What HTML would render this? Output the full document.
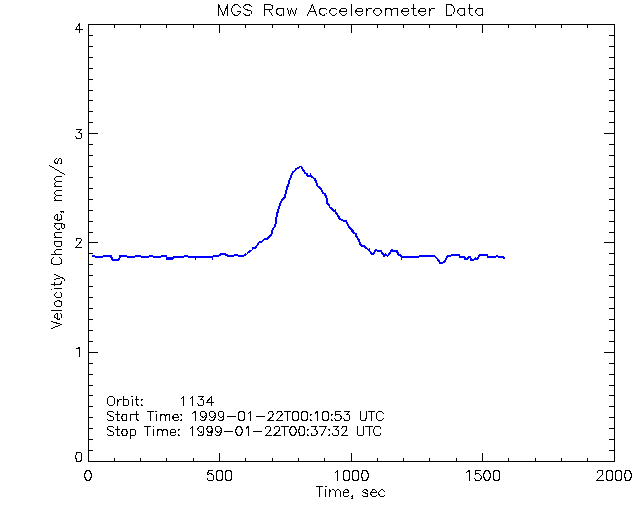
<!DOCTYPE html>
<html><head><meta charset="utf-8"><style>
html,body{margin:0;padding:0;background:#fff;width:640px;height:512px;overflow:hidden}
svg{display:block}
</style></head><body>
<svg width="640" height="512" viewBox="0 0 640 512">
<rect width="640" height="512" fill="#fff"/>
<path d="M88.5 24.5H614.5V461.5H88.5Z M88.5 461.5V453.5 M88.5 24.5V32.5 M114.5 461.5V458.5 M114.5 24.5V27.5 M140.5 461.5V458.5 M140.5 24.5V27.5 M166.5 461.5V458.5 M166.5 24.5V27.5 M193.5 461.5V458.5 M193.5 24.5V27.5 M219.5 461.5V453.5 M219.5 24.5V32.5 M245.5 461.5V458.5 M245.5 24.5V27.5 M272.5 461.5V458.5 M272.5 24.5V27.5 M298.5 461.5V458.5 M298.5 24.5V27.5 M324.5 461.5V458.5 M324.5 24.5V27.5 M351.5 461.5V453.5 M351.5 24.5V32.5 M377.5 461.5V458.5 M377.5 24.5V27.5 M403.5 461.5V458.5 M403.5 24.5V27.5 M429.5 461.5V458.5 M429.5 24.5V27.5 M456.5 461.5V458.5 M456.5 24.5V27.5 M482.5 461.5V453.5 M482.5 24.5V32.5 M508.5 461.5V458.5 M508.5 24.5V27.5 M535.5 461.5V458.5 M535.5 24.5V27.5 M561.5 461.5V458.5 M561.5 24.5V27.5 M587.5 461.5V458.5 M587.5 24.5V27.5 M614.5 461.5V453.5 M614.5 24.5V32.5 M88.5 461.5H97.5 M614.5 461.5H604.5 M88.5 450.5H92.5 M614.5 450.5H609.5 M88.5 439.5H92.5 M614.5 439.5H609.5 M88.5 428.5H92.5 M614.5 428.5H609.5 M88.5 417.5H92.5 M614.5 417.5H609.5 M88.5 406.5H92.5 M614.5 406.5H609.5 M88.5 395.5H92.5 M614.5 395.5H609.5 M88.5 385.5H92.5 M614.5 385.5H609.5 M88.5 374.5H92.5 M614.5 374.5H609.5 M88.5 363.5H92.5 M614.5 363.5H609.5 M88.5 352.5H97.5 M614.5 352.5H604.5 M88.5 341.5H92.5 M614.5 341.5H609.5 M88.5 330.5H92.5 M614.5 330.5H609.5 M88.5 319.5H92.5 M614.5 319.5H609.5 M88.5 308.5H92.5 M614.5 308.5H609.5 M88.5 297.5H92.5 M614.5 297.5H609.5 M88.5 286.5H92.5 M614.5 286.5H609.5 M88.5 275.5H92.5 M614.5 275.5H609.5 M88.5 264.5H92.5 M614.5 264.5H609.5 M88.5 253.5H92.5 M614.5 253.5H609.5 M88.5 242.5H97.5 M614.5 242.5H604.5 M88.5 232.5H92.5 M614.5 232.5H609.5 M88.5 221.5H92.5 M614.5 221.5H609.5 M88.5 210.5H92.5 M614.5 210.5H609.5 M88.5 199.5H92.5 M614.5 199.5H609.5 M88.5 188.5H92.5 M614.5 188.5H609.5 M88.5 177.5H92.5 M614.5 177.5H609.5 M88.5 166.5H92.5 M614.5 166.5H609.5 M88.5 155.5H92.5 M614.5 155.5H609.5 M88.5 144.5H92.5 M614.5 144.5H609.5 M88.5 133.5H97.5 M614.5 133.5H604.5 M88.5 122.5H92.5 M614.5 122.5H609.5 M88.5 111.5H92.5 M614.5 111.5H609.5 M88.5 100.5H92.5 M614.5 100.5H609.5 M88.5 90.5H92.5 M614.5 90.5H609.5 M88.5 79.5H92.5 M614.5 79.5H609.5 M88.5 68.5H92.5 M614.5 68.5H609.5 M88.5 57.5H92.5 M614.5 57.5H609.5 M88.5 46.5H92.5 M614.5 46.5H609.5 M88.5 35.5H92.5 M614.5 35.5H609.5 M88.5 24.5H97.5 M614.5 24.5H604.5" stroke="#000" stroke-width="1" fill="none" shape-rendering="crispEdges" stroke-linecap="square"/>
<path d="M218.5 4.5 L218.5 15.5 M218.5 4.5 L223.5 15.5 M227.5 4.5 L223.5 15.5 M227.5 4.5 L227.5 15.5 M240.5 7.5 L239.5 6.5 L238.5 5.5 L237.5 4.5 L235.5 4.5 L233.5 5.5 L232.5 6.5 L232.5 7.5 L231.5 8.5 L231.5 11.5 L232.5 12.5 L232.5 13.5 L233.5 14.5 L235.5 15.5 L237.5 15.5 L238.5 14.5 L239.5 13.5 L240.5 12.5 L240.5 11.5 M237.5 11.5 L240.5 11.5 M251.5 6.5 L250.5 5.5 L248.5 4.5 L246.5 4.5 L244.5 5.5 L243.5 6.5 L243.5 7.5 L244.5 8.5 L244.5 8.5 L245.5 9.5 L249.5 10.5 L250.5 10.5 L251.5 11.5 L251.5 12.5 L251.5 13.5 L250.5 14.5 L248.5 15.5 L246.5 15.5 L244.5 14.5 L243.5 13.5 M264.5 4.5 L264.5 15.5 M264.5 4.5 L270.5 4.5 L271.5 5.5 L272.5 5.5 L272.5 6.5 L272.5 7.5 L272.5 8.5 L271.5 9.5 L270.5 9.5 L264.5 9.5 M268.5 9.5 L272.5 15.5 M283.5 8.5 L283.5 15.5 M283.5 9.5 L282.5 8.5 L280.5 8.5 L279.5 8.5 L278.5 8.5 L276.5 9.5 L276.5 11.5 L276.5 12.5 L276.5 13.5 L278.5 14.5 L279.5 15.5 L280.5 15.5 L282.5 14.5 L283.5 13.5 M287.5 8.5 L289.5 15.5 M291.5 8.5 L289.5 15.5 M291.5 8.5 L294.5 15.5 M296.5 8.5 L294.5 15.5 M312.5 4.5 L307.5 15.5 M312.5 4.5 L316.5 15.5 M309.5 11.5 L315.5 11.5 M326.5 9.5 L325.5 8.5 L323.5 8.5 L322.5 8.5 L321.5 8.5 L319.5 9.5 L319.5 11.5 L319.5 12.5 L319.5 13.5 L321.5 14.5 L322.5 15.5 L323.5 15.5 L325.5 14.5 L326.5 13.5 M336.5 9.5 L335.5 8.5 L334.5 8.5 L332.5 8.5 L331.5 8.5 L330.5 9.5 L329.5 11.5 L329.5 12.5 L330.5 13.5 L331.5 14.5 L332.5 15.5 L334.5 15.5 L335.5 14.5 L336.5 13.5 M339.5 11.5 L346.5 11.5 L346.5 10.5 L346.5 9.5 L345.5 8.5 L344.5 8.5 L342.5 8.5 L341.5 8.5 L340.5 9.5 L339.5 11.5 L339.5 12.5 L340.5 13.5 L341.5 14.5 L342.5 15.5 L344.5 15.5 L345.5 14.5 L346.5 13.5 M351.5 4.5 L351.5 15.5 M355.5 11.5 L362.5 11.5 L362.5 10.5 L362.5 9.5 L361.5 8.5 L360.5 8.5 L358.5 8.5 L357.5 8.5 L356.5 9.5 L355.5 11.5 L355.5 12.5 L356.5 13.5 L357.5 14.5 L358.5 15.5 L360.5 15.5 L361.5 14.5 L362.5 13.5 M366.5 8.5 L366.5 15.5 M366.5 11.5 L367.5 9.5 L368.5 8.5 L369.5 8.5 L371.5 8.5 M376.5 8.5 L375.5 8.5 L374.5 9.5 L373.5 11.5 L373.5 12.5 L374.5 13.5 L375.5 14.5 L376.5 15.5 L378.5 15.5 L379.5 14.5 L380.5 13.5 L381.5 12.5 L381.5 11.5 L380.5 9.5 L379.5 8.5 L378.5 8.5 L376.5 8.5 M385.5 8.5 L385.5 15.5 M385.5 10.5 L386.5 8.5 L388.5 8.5 L389.5 8.5 L390.5 8.5 L391.5 10.5 L391.5 15.5 M391.5 10.5 L393.5 8.5 L394.5 8.5 L396.5 8.5 L397.5 8.5 L397.5 10.5 L397.5 15.5 M401.5 11.5 L408.5 11.5 L408.5 10.5 L408.5 9.5 L407.5 8.5 L406.5 8.5 L404.5 8.5 L403.5 8.5 L402.5 9.5 L401.5 11.5 L401.5 12.5 L402.5 13.5 L403.5 14.5 L404.5 15.5 L406.5 15.5 L407.5 14.5 L408.5 13.5 M413.5 4.5 L413.5 13.5 L413.5 14.5 L414.5 15.5 L416.5 15.5 M411.5 8.5 L415.5 8.5 M418.5 11.5 L425.5 11.5 L425.5 10.5 L425.5 9.5 L424.5 8.5 L423.5 8.5 L421.5 8.5 L420.5 8.5 L419.5 9.5 L418.5 11.5 L418.5 12.5 L419.5 13.5 L420.5 14.5 L421.5 15.5 L423.5 15.5 L424.5 14.5 L425.5 13.5 M429.5 8.5 L429.5 15.5 M429.5 11.5 L430.5 9.5 L431.5 8.5 L432.5 8.5 L434.5 8.5 M446.5 4.5 L446.5 15.5 M446.5 4.5 L450.5 4.5 L452.5 5.5 L453.5 6.5 L453.5 7.5 L454.5 8.5 L454.5 11.5 L453.5 12.5 L453.5 13.5 L452.5 14.5 L450.5 15.5 L446.5 15.5 M464.5 8.5 L464.5 15.5 M464.5 9.5 L463.5 8.5 L462.5 8.5 L460.5 8.5 L459.5 8.5 L458.5 9.5 L457.5 11.5 L457.5 12.5 L458.5 13.5 L459.5 14.5 L460.5 15.5 L462.5 15.5 L463.5 14.5 L464.5 13.5 M469.5 4.5 L469.5 13.5 L470.5 14.5 L471.5 15.5 L472.5 15.5 M468.5 8.5 L472.5 8.5 M482.5 8.5 L482.5 15.5 M482.5 9.5 L481.5 8.5 L480.5 8.5 L478.5 8.5 L477.5 8.5 L476.5 9.5 L475.5 11.5 L475.5 12.5 L476.5 13.5 L477.5 14.5 L478.5 15.5 L480.5 15.5 L481.5 14.5 L482.5 13.5 M78.5 452.5 L76.5 452.5 L76.5 453.5 L75.5 456.5 L75.5 457.5 L76.5 459.5 L76.5 461.5 L78.5 461.5 L79.5 461.5 L80.5 461.5 L81.5 459.5 L81.5 457.5 L81.5 456.5 L81.5 453.5 L80.5 452.5 L79.5 452.5 L78.5 452.5 M76.5 348.5 L77.5 348.5 L79.5 347.5 L79.5 356.5 M76.5 240.5 L76.5 239.5 L76.5 238.5 L76.5 238.5 L77.5 238.5 L79.5 238.5 L80.5 238.5 L80.5 238.5 L81.5 239.5 L81.5 240.5 L80.5 241.5 L79.5 243.5 L75.5 247.5 L81.5 247.5 M76.5 129.5 L81.5 129.5 L78.5 132.5 L79.5 132.5 L80.5 133.5 L81.5 133.5 L81.5 134.5 L81.5 135.5 L81.5 137.5 L80.5 138.5 L79.5 138.5 L77.5 138.5 L76.5 138.5 L76.5 137.5 L75.5 136.5 M79.5 23.5 L75.5 29.5 L82.5 29.5 M79.5 23.5 L79.5 32.5 M87.5 470.5 L86.5 470.5 L85.5 472.5 L84.5 474.5 L84.5 476.5 L85.5 478.5 L86.5 480.5 L87.5 480.5 L88.5 480.5 L89.5 480.5 L90.5 478.5 L91.5 476.5 L91.5 474.5 L90.5 472.5 L89.5 470.5 L88.5 470.5 L87.5 470.5 M212.5 470.5 L208.5 470.5 L207.5 474.5 L208.5 474.5 L209.5 473.5 L210.5 473.5 L212.5 474.5 L213.5 475.5 L213.5 476.5 L213.5 477.5 L213.5 479.5 L212.5 480.5 L210.5 480.5 L209.5 480.5 L208.5 480.5 L207.5 479.5 L207.5 478.5 M219.5 470.5 L217.5 470.5 L216.5 472.5 L216.5 474.5 L216.5 476.5 L216.5 478.5 L217.5 480.5 L219.5 480.5 L219.5 480.5 L221.5 480.5 L222.5 478.5 L222.5 476.5 L222.5 474.5 L222.5 472.5 L221.5 470.5 L219.5 470.5 L219.5 470.5 M228.5 470.5 L226.5 470.5 L225.5 472.5 L225.5 474.5 L225.5 476.5 L225.5 478.5 L226.5 480.5 L228.5 480.5 L229.5 480.5 L230.5 480.5 L231.5 478.5 L231.5 476.5 L231.5 474.5 L231.5 472.5 L230.5 470.5 L229.5 470.5 L228.5 470.5 M335.5 472.5 L336.5 471.5 L337.5 470.5 L337.5 480.5 M345.5 470.5 L344.5 470.5 L343.5 472.5 L343.5 474.5 L343.5 476.5 L343.5 478.5 L344.5 480.5 L345.5 480.5 L346.5 480.5 L348.5 480.5 L349.5 478.5 L349.5 476.5 L349.5 474.5 L349.5 472.5 L348.5 470.5 L346.5 470.5 L345.5 470.5 M355.5 470.5 L353.5 470.5 L352.5 472.5 L352.5 474.5 L352.5 476.5 L352.5 478.5 L353.5 480.5 L355.5 480.5 L356.5 480.5 L357.5 480.5 L358.5 478.5 L358.5 476.5 L358.5 474.5 L358.5 472.5 L357.5 470.5 L356.5 470.5 L355.5 470.5 M364.5 470.5 L362.5 470.5 L362.5 472.5 L361.5 474.5 L361.5 476.5 L362.5 478.5 L362.5 480.5 L364.5 480.5 L365.5 480.5 L366.5 480.5 L367.5 478.5 L368.5 476.5 L368.5 474.5 L367.5 472.5 L366.5 470.5 L365.5 470.5 L364.5 470.5 M466.5 472.5 L467.5 471.5 L469.5 470.5 L469.5 480.5 M480.5 470.5 L475.5 470.5 L475.5 474.5 L475.5 474.5 L476.5 473.5 L478.5 473.5 L479.5 474.5 L480.5 475.5 L481.5 476.5 L481.5 477.5 L480.5 479.5 L479.5 480.5 L478.5 480.5 L476.5 480.5 L475.5 480.5 L475.5 479.5 L474.5 478.5 M486.5 470.5 L485.5 470.5 L484.5 472.5 L483.5 474.5 L483.5 476.5 L484.5 478.5 L485.5 480.5 L486.5 480.5 L487.5 480.5 L488.5 480.5 L489.5 478.5 L490.5 476.5 L490.5 474.5 L489.5 472.5 L488.5 470.5 L487.5 470.5 L486.5 470.5 M495.5 470.5 L494.5 470.5 L493.5 472.5 L493.5 474.5 L493.5 476.5 L493.5 478.5 L494.5 480.5 L495.5 480.5 L496.5 480.5 L498.5 480.5 L499.5 478.5 L499.5 476.5 L499.5 474.5 L499.5 472.5 L498.5 470.5 L496.5 470.5 L495.5 470.5 M597.5 472.5 L597.5 472.5 L597.5 471.5 L598.5 470.5 L599.5 470.5 L601.5 470.5 L602.5 470.5 L602.5 471.5 L602.5 472.5 L602.5 473.5 L602.5 474.5 L601.5 475.5 L596.5 480.5 L603.5 480.5 M608.5 470.5 L607.5 470.5 L606.5 472.5 L606.5 474.5 L606.5 476.5 L606.5 478.5 L607.5 480.5 L608.5 480.5 L609.5 480.5 L611.5 480.5 L612.5 478.5 L612.5 476.5 L612.5 474.5 L612.5 472.5 L611.5 470.5 L609.5 470.5 L608.5 470.5 M618.5 470.5 L616.5 470.5 L615.5 472.5 L615.5 474.5 L615.5 476.5 L615.5 478.5 L616.5 480.5 L618.5 480.5 L619.5 480.5 L620.5 480.5 L621.5 478.5 L621.5 476.5 L621.5 474.5 L621.5 472.5 L620.5 470.5 L619.5 470.5 L618.5 470.5 M627.5 470.5 L625.5 470.5 L625.5 472.5 L624.5 474.5 L624.5 476.5 L625.5 478.5 L625.5 480.5 L627.5 480.5 L628.5 480.5 L629.5 480.5 L630.5 478.5 L631.5 476.5 L631.5 474.5 L630.5 472.5 L629.5 470.5 L628.5 470.5 L627.5 470.5 M319.5 486.5 L319.5 496.5 M316.5 486.5 L322.5 486.5 M325.5 486.5 L325.5 486.5 L326.5 486.5 L325.5 486.5 L325.5 486.5 M325.5 489.5 L325.5 496.5 M329.5 489.5 L329.5 496.5 M329.5 491.5 L331.5 490.5 L332.5 489.5 L333.5 489.5 L334.5 490.5 L335.5 491.5 L335.5 496.5 M335.5 491.5 L336.5 490.5 L337.5 489.5 L338.5 489.5 L339.5 490.5 L340.5 491.5 L340.5 496.5 M343.5 492.5 L348.5 492.5 L348.5 491.5 L348.5 490.5 L347.5 490.5 L347.5 489.5 L345.5 489.5 L344.5 490.5 L343.5 491.5 L343.5 492.5 L343.5 493.5 L343.5 495.5 L344.5 496.5 L345.5 496.5 L347.5 496.5 L347.5 496.5 L348.5 495.5 M352.5 496.5 L352.5 496.5 L351.5 496.5 L352.5 495.5 L352.5 496.5 L352.5 497.5 L352.5 498.5 L351.5 498.5 M367.5 491.5 L367.5 490.5 L365.5 489.5 L364.5 489.5 L363.5 490.5 L362.5 491.5 L363.5 492.5 L364.5 492.5 L366.5 493.5 L367.5 493.5 L367.5 494.5 L367.5 495.5 L367.5 496.5 L365.5 496.5 L364.5 496.5 L363.5 496.5 L362.5 495.5 M370.5 492.5 L376.5 492.5 L376.5 491.5 L375.5 490.5 L375.5 490.5 L374.5 489.5 L372.5 489.5 L372.5 490.5 L371.5 491.5 L370.5 492.5 L370.5 493.5 L371.5 495.5 L372.5 496.5 L372.5 496.5 L374.5 496.5 L375.5 496.5 L376.5 495.5 M384.5 491.5 L383.5 490.5 L382.5 489.5 L381.5 489.5 L380.5 490.5 L379.5 491.5 L378.5 492.5 L378.5 493.5 L379.5 495.5 L380.5 496.5 L381.5 496.5 L382.5 496.5 L383.5 496.5 L384.5 495.5 M51.5 328.5 L61.5 324.5 M51.5 321.5 L61.5 324.5 M57.5 319.5 L57.5 313.5 L56.5 313.5 L55.5 314.5 L55.5 314.5 L54.5 315.5 L54.5 317.5 L55.5 317.5 L56.5 318.5 L57.5 319.5 L58.5 319.5 L60.5 318.5 L61.5 317.5 L61.5 317.5 L61.5 315.5 L61.5 314.5 L60.5 313.5 M51.5 310.5 L61.5 310.5 M54.5 304.5 L55.5 305.5 L56.5 306.5 L57.5 306.5 L58.5 306.5 L60.5 306.5 L61.5 305.5 L61.5 304.5 L61.5 302.5 L61.5 301.5 L60.5 301.5 L58.5 300.5 L57.5 300.5 L56.5 301.5 L55.5 301.5 L54.5 302.5 L54.5 304.5 M56.5 292.5 L55.5 293.5 L54.5 294.5 L54.5 295.5 L55.5 296.5 L56.5 297.5 L57.5 297.5 L58.5 297.5 L60.5 297.5 L61.5 296.5 L61.5 295.5 L61.5 294.5 L61.5 293.5 L60.5 292.5 M51.5 289.5 L51.5 288.5 L51.5 288.5 L51.5 288.5 L51.5 289.5 M54.5 288.5 L61.5 288.5 M51.5 284.5 L59.5 284.5 L61.5 283.5 L61.5 282.5 L61.5 281.5 M54.5 285.5 L54.5 282.5 M54.5 279.5 L61.5 277.5 M54.5 274.5 L61.5 277.5 L63.5 278.5 L64.5 279.5 L64.5 279.5 L64.5 280.5 M53.5 257.5 L52.5 258.5 L51.5 259.5 L51.5 260.5 L51.5 262.5 L51.5 263.5 L52.5 263.5 L53.5 264.5 L55.5 264.5 L57.5 264.5 L59.5 264.5 L60.5 263.5 L61.5 263.5 L61.5 262.5 L61.5 260.5 L61.5 259.5 L60.5 258.5 L59.5 257.5 M51.5 254.5 L61.5 254.5 M56.5 254.5 L55.5 253.5 L54.5 252.5 L54.5 251.5 L55.5 250.5 L56.5 249.5 L61.5 249.5 M54.5 241.5 L61.5 241.5 M56.5 241.5 L55.5 241.5 L54.5 242.5 L54.5 244.5 L55.5 245.5 L56.5 246.5 L57.5 246.5 L58.5 246.5 L60.5 246.5 L61.5 245.5 L61.5 244.5 L61.5 242.5 L61.5 241.5 L60.5 241.5 M54.5 237.5 L61.5 237.5 M56.5 237.5 L55.5 236.5 L54.5 235.5 L54.5 233.5 L55.5 232.5 L56.5 232.5 L61.5 232.5 M54.5 223.5 L62.5 223.5 L63.5 224.5 L64.5 224.5 L64.5 225.5 L64.5 226.5 L64.5 227.5 L63.5 228.5 L62.5 228.5 M56.5 223.5 L55.5 224.5 L54.5 225.5 L54.5 226.5 L55.5 227.5 L56.5 228.5 L57.5 229.5 L58.5 229.5 L60.5 228.5 L61.5 227.5 L61.5 226.5 L61.5 225.5 L61.5 224.5 L60.5 223.5 M57.5 220.5 L57.5 214.5 L56.5 214.5 L55.5 215.5 L55.5 215.5 L54.5 216.5 L54.5 218.5 L55.5 219.5 L56.5 219.5 L57.5 220.5 L58.5 220.5 L60.5 219.5 L61.5 219.5 L61.5 218.5 L61.5 216.5 L61.5 215.5 L60.5 214.5 M61.5 211.5 L61.5 211.5 L61.5 212.5 L60.5 211.5 L61.5 211.5 L62.5 211.5 L63.5 211.5 L63.5 212.5 M54.5 200.5 L61.5 200.5 M56.5 200.5 L55.5 199.5 L54.5 198.5 L54.5 197.5 L55.5 196.5 L56.5 195.5 L61.5 195.5 M56.5 195.5 L55.5 194.5 L54.5 193.5 L54.5 192.5 L55.5 191.5 L56.5 190.5 L61.5 190.5 M54.5 186.5 L61.5 186.5 M56.5 186.5 L55.5 185.5 L54.5 184.5 L54.5 183.5 L55.5 182.5 L56.5 181.5 L61.5 181.5 M56.5 181.5 L55.5 180.5 L54.5 179.5 L54.5 178.5 L55.5 177.5 L56.5 176.5 L61.5 176.5 M49.5 165.5 L64.5 174.5 M56.5 158.5 L55.5 159.5 L54.5 160.5 L54.5 161.5 L55.5 163.5 L56.5 163.5 L57.5 163.5 L57.5 162.5 L58.5 159.5 L58.5 159.5 L59.5 158.5 L60.5 158.5 L61.5 159.5 L61.5 160.5 L61.5 161.5 L61.5 163.5 L60.5 163.5 M110.5 396.5 L109.5 396.5 L108.5 397.5 L107.5 398.5 L107.5 399.5 L107.5 402.5 L107.5 403.5 L108.5 404.5 L109.5 405.5 L110.5 405.5 L111.5 405.5 L112.5 405.5 L113.5 404.5 L114.5 403.5 L114.5 402.5 L114.5 399.5 L114.5 398.5 L113.5 397.5 L112.5 396.5 L111.5 396.5 L110.5 396.5 M117.5 399.5 L117.5 405.5 M117.5 402.5 L118.5 400.5 L119.5 399.5 L119.5 399.5 L121.5 399.5 M123.5 396.5 L123.5 405.5 M123.5 400.5 L124.5 399.5 L125.5 399.5 L126.5 399.5 L127.5 399.5 L128.5 400.5 L128.5 402.5 L128.5 402.5 L128.5 404.5 L127.5 405.5 L126.5 405.5 L125.5 405.5 L124.5 405.5 L123.5 404.5 M131.5 396.5 L132.5 396.5 L132.5 396.5 L132.5 396.5 L131.5 396.5 M132.5 399.5 L132.5 405.5 M136.5 396.5 L136.5 403.5 L137.5 405.5 L138.5 405.5 L138.5 405.5 M135.5 399.5 L138.5 399.5 M141.5 399.5 L141.5 399.5 L141.5 400.5 L142.5 399.5 L141.5 399.5 M141.5 404.5 L141.5 405.5 L141.5 405.5 L142.5 405.5 L141.5 404.5 M181.5 398.5 L182.5 397.5 L183.5 396.5 L183.5 405.5 M190.5 398.5 L191.5 397.5 L192.5 396.5 L192.5 405.5 M198.5 396.5 L203.5 396.5 L200.5 399.5 L202.5 399.5 L203.5 400.5 L203.5 400.5 L203.5 402.5 L203.5 402.5 L203.5 404.5 L202.5 405.5 L201.5 405.5 L199.5 405.5 L198.5 405.5 L198.5 404.5 L197.5 403.5 M211.5 396.5 L206.5 402.5 L213.5 402.5 M211.5 396.5 L211.5 405.5 M113.5 412.5 L112.5 411.5 L111.5 411.5 L109.5 411.5 L108.5 411.5 L107.5 412.5 L107.5 413.5 L107.5 414.5 L108.5 414.5 L109.5 415.5 L111.5 416.5 L112.5 416.5 L113.5 417.5 L113.5 417.5 L113.5 419.5 L112.5 420.5 L111.5 420.5 L109.5 420.5 L108.5 420.5 L107.5 419.5 M117.5 411.5 L117.5 418.5 L117.5 420.5 L118.5 420.5 L119.5 420.5 M115.5 414.5 L119.5 414.5 M126.5 414.5 L126.5 420.5 M126.5 415.5 L126.5 414.5 L125.5 414.5 L123.5 414.5 L122.5 414.5 L122.5 415.5 L121.5 417.5 L121.5 417.5 L122.5 419.5 L122.5 420.5 L123.5 420.5 L125.5 420.5 L126.5 420.5 L126.5 419.5 M130.5 414.5 L130.5 420.5 M130.5 417.5 L130.5 415.5 L131.5 414.5 L132.5 414.5 L134.5 414.5 M136.5 411.5 L136.5 418.5 L137.5 420.5 L138.5 420.5 L138.5 420.5 M135.5 414.5 L138.5 414.5 M150.5 411.5 L150.5 420.5 M147.5 411.5 L153.5 411.5 M155.5 411.5 L156.5 411.5 L156.5 411.5 L156.5 411.5 L155.5 411.5 M156.5 414.5 L156.5 420.5 M160.5 414.5 L160.5 420.5 M160.5 416.5 L161.5 414.5 L162.5 414.5 L163.5 414.5 L164.5 414.5 L165.5 416.5 L165.5 420.5 M165.5 416.5 L166.5 414.5 L167.5 414.5 L168.5 414.5 L169.5 414.5 L169.5 416.5 L169.5 420.5 M172.5 417.5 L178.5 417.5 L178.5 416.5 L177.5 415.5 L177.5 414.5 L176.5 414.5 L175.5 414.5 L174.5 414.5 L173.5 415.5 L172.5 417.5 L172.5 417.5 L173.5 419.5 L174.5 420.5 L175.5 420.5 L176.5 420.5 L177.5 420.5 L178.5 419.5 M181.5 414.5 L180.5 414.5 L181.5 415.5 L181.5 414.5 L181.5 414.5 M181.5 419.5 L180.5 420.5 L181.5 420.5 L181.5 420.5 L181.5 419.5 M192.5 413.5 L193.5 412.5 L195.5 411.5 L195.5 420.5 M206.5 414.5 L205.5 415.5 L204.5 416.5 L203.5 417.5 L203.5 417.5 L201.5 416.5 L200.5 415.5 L200.5 414.5 L200.5 414.5 L200.5 412.5 L201.5 411.5 L203.5 411.5 L203.5 411.5 L204.5 411.5 L205.5 412.5 L206.5 414.5 L206.5 416.5 L205.5 418.5 L204.5 420.5 L203.5 420.5 L202.5 420.5 L201.5 420.5 L200.5 419.5 M215.5 414.5 L214.5 415.5 L213.5 416.5 L212.5 417.5 L211.5 417.5 L210.5 416.5 L209.5 415.5 L209.5 414.5 L209.5 414.5 L209.5 412.5 L210.5 411.5 L211.5 411.5 L212.5 411.5 L213.5 411.5 L214.5 412.5 L215.5 414.5 L215.5 416.5 L214.5 418.5 L213.5 420.5 L212.5 420.5 L211.5 420.5 L210.5 420.5 L209.5 419.5 M223.5 414.5 L223.5 415.5 L222.5 416.5 L221.5 417.5 L220.5 417.5 L219.5 416.5 L218.5 415.5 L218.5 414.5 L218.5 414.5 L218.5 412.5 L219.5 411.5 L220.5 411.5 L221.5 411.5 L222.5 411.5 L223.5 412.5 L223.5 414.5 L223.5 416.5 L223.5 418.5 L222.5 420.5 L221.5 420.5 L220.5 420.5 L219.5 420.5 L218.5 419.5 M227.5 416.5 L235.5 416.5 M241.5 411.5 L239.5 411.5 L238.5 413.5 L238.5 415.5 L238.5 416.5 L238.5 418.5 L239.5 420.5 L241.5 420.5 L242.5 420.5 L243.5 420.5 L244.5 418.5 L244.5 416.5 L244.5 415.5 L244.5 413.5 L243.5 411.5 L242.5 411.5 L241.5 411.5 M248.5 413.5 L249.5 412.5 L250.5 411.5 L250.5 420.5 M256.5 416.5 L264.5 416.5 M268.5 413.5 L268.5 413.5 L268.5 412.5 L269.5 411.5 L269.5 411.5 L271.5 411.5 L272.5 411.5 L272.5 412.5 L273.5 413.5 L273.5 414.5 L272.5 414.5 L272.5 416.5 L267.5 420.5 L273.5 420.5 M276.5 413.5 L276.5 413.5 L277.5 412.5 L277.5 411.5 L278.5 411.5 L280.5 411.5 L281.5 411.5 L281.5 412.5 L282.5 413.5 L282.5 414.5 L281.5 414.5 L280.5 416.5 L276.5 420.5 L282.5 420.5 M287.5 411.5 L287.5 420.5 M284.5 411.5 L290.5 411.5 M295.5 411.5 L293.5 411.5 L292.5 413.5 L292.5 415.5 L292.5 416.5 L292.5 418.5 L293.5 420.5 L295.5 420.5 L296.5 420.5 L297.5 420.5 L298.5 418.5 L298.5 416.5 L298.5 415.5 L298.5 413.5 L297.5 411.5 L296.5 411.5 L295.5 411.5 M303.5 411.5 L302.5 411.5 L301.5 413.5 L301.5 415.5 L301.5 416.5 L301.5 418.5 L302.5 420.5 L303.5 420.5 L304.5 420.5 L306.5 420.5 L307.5 418.5 L307.5 416.5 L307.5 415.5 L307.5 413.5 L306.5 411.5 L304.5 411.5 L303.5 411.5 M310.5 414.5 L310.5 414.5 L310.5 415.5 L311.5 414.5 L310.5 414.5 M310.5 419.5 L310.5 420.5 L310.5 420.5 L311.5 420.5 L310.5 419.5 M315.5 413.5 L315.5 412.5 L317.5 411.5 L317.5 420.5 M325.5 411.5 L323.5 411.5 L322.5 413.5 L322.5 415.5 L322.5 416.5 L322.5 418.5 L323.5 420.5 L325.5 420.5 L326.5 420.5 L327.5 420.5 L328.5 418.5 L328.5 416.5 L328.5 415.5 L328.5 413.5 L327.5 411.5 L326.5 411.5 L325.5 411.5 M331.5 414.5 L331.5 414.5 L331.5 415.5 L332.5 414.5 L331.5 414.5 M331.5 419.5 L331.5 420.5 L331.5 420.5 L332.5 420.5 L331.5 419.5 M340.5 411.5 L335.5 411.5 L335.5 415.5 L335.5 414.5 L337.5 414.5 L338.5 414.5 L339.5 414.5 L340.5 415.5 L341.5 417.5 L341.5 417.5 L340.5 419.5 L339.5 420.5 L338.5 420.5 L337.5 420.5 L335.5 420.5 L335.5 419.5 L334.5 418.5 M344.5 411.5 L349.5 411.5 L346.5 414.5 L348.5 414.5 L349.5 415.5 L349.5 415.5 L349.5 417.5 L349.5 417.5 L349.5 419.5 L348.5 420.5 L347.5 420.5 L346.5 420.5 L344.5 420.5 L344.5 419.5 L343.5 418.5 M360.5 411.5 L360.5 417.5 L360.5 419.5 L361.5 420.5 L362.5 420.5 L363.5 420.5 L365.5 420.5 L365.5 419.5 L366.5 417.5 L366.5 411.5 M371.5 411.5 L371.5 420.5 M368.5 411.5 L374.5 411.5 M383.5 413.5 L382.5 412.5 L381.5 411.5 L380.5 411.5 L379.5 411.5 L378.5 411.5 L377.5 412.5 L376.5 413.5 L376.5 414.5 L376.5 417.5 L376.5 418.5 L377.5 419.5 L378.5 420.5 L379.5 420.5 L380.5 420.5 L381.5 420.5 L382.5 419.5 L383.5 418.5 M113.5 427.5 L112.5 426.5 L111.5 426.5 L109.5 426.5 L108.5 426.5 L107.5 427.5 L107.5 428.5 L107.5 429.5 L108.5 429.5 L109.5 430.5 L111.5 431.5 L112.5 431.5 L113.5 432.5 L113.5 432.5 L113.5 434.5 L112.5 435.5 L111.5 435.5 L109.5 435.5 L108.5 435.5 L107.5 434.5 M117.5 426.5 L117.5 433.5 L117.5 435.5 L118.5 435.5 L119.5 435.5 M115.5 429.5 L119.5 429.5 M123.5 429.5 L122.5 429.5 L122.5 430.5 L121.5 432.5 L121.5 432.5 L122.5 434.5 L122.5 435.5 L123.5 435.5 L125.5 435.5 L126.5 435.5 L126.5 434.5 L127.5 432.5 L127.5 432.5 L126.5 430.5 L126.5 429.5 L125.5 429.5 L123.5 429.5 M130.5 429.5 L130.5 438.5 M130.5 430.5 L131.5 429.5 L132.5 429.5 L133.5 429.5 L134.5 429.5 L135.5 430.5 L135.5 432.5 L135.5 432.5 L135.5 434.5 L134.5 435.5 L133.5 435.5 L132.5 435.5 L131.5 435.5 L130.5 434.5 M147.5 426.5 L147.5 435.5 M144.5 426.5 L150.5 426.5 M153.5 426.5 L153.5 426.5 L153.5 426.5 L153.5 426.5 L153.5 426.5 M153.5 429.5 L153.5 435.5 M157.5 429.5 L157.5 435.5 M157.5 431.5 L158.5 429.5 L159.5 429.5 L161.5 429.5 L161.5 429.5 L162.5 431.5 L162.5 435.5 M162.5 431.5 L163.5 429.5 L164.5 429.5 L165.5 429.5 L166.5 429.5 L167.5 431.5 L167.5 435.5 M170.5 432.5 L175.5 432.5 L175.5 431.5 L175.5 430.5 L174.5 429.5 L173.5 429.5 L172.5 429.5 L171.5 429.5 L170.5 430.5 L170.5 432.5 L170.5 432.5 L170.5 434.5 L171.5 435.5 L172.5 435.5 L173.5 435.5 L174.5 435.5 L175.5 434.5 M178.5 429.5 L178.5 429.5 L178.5 430.5 L179.5 429.5 L178.5 429.5 M178.5 434.5 L178.5 435.5 L178.5 435.5 L179.5 435.5 L178.5 434.5 M190.5 428.5 L191.5 427.5 L192.5 426.5 L192.5 435.5 M203.5 429.5 L203.5 430.5 L202.5 431.5 L200.5 432.5 L200.5 432.5 L199.5 431.5 L198.5 430.5 L197.5 429.5 L197.5 429.5 L198.5 427.5 L199.5 426.5 L200.5 426.5 L200.5 426.5 L202.5 426.5 L203.5 427.5 L203.5 429.5 L203.5 431.5 L203.5 433.5 L202.5 435.5 L200.5 435.5 L199.5 435.5 L198.5 435.5 L198.5 434.5 M212.5 429.5 L211.5 430.5 L211.5 431.5 L209.5 432.5 L209.5 432.5 L207.5 431.5 L207.5 430.5 L206.5 429.5 L206.5 429.5 L207.5 427.5 L207.5 426.5 L209.5 426.5 L209.5 426.5 L211.5 426.5 L211.5 427.5 L212.5 429.5 L212.5 431.5 L211.5 433.5 L211.5 435.5 L209.5 435.5 L208.5 435.5 L207.5 435.5 L207.5 434.5 M221.5 429.5 L220.5 430.5 L219.5 431.5 L218.5 432.5 L218.5 432.5 L216.5 431.5 L215.5 430.5 L215.5 429.5 L215.5 429.5 L215.5 427.5 L216.5 426.5 L218.5 426.5 L218.5 426.5 L219.5 426.5 L220.5 427.5 L221.5 429.5 L221.5 431.5 L220.5 433.5 L219.5 435.5 L218.5 435.5 L217.5 435.5 L216.5 435.5 L215.5 434.5 M224.5 431.5 L232.5 431.5 M238.5 426.5 L237.5 426.5 L236.5 428.5 L235.5 430.5 L235.5 431.5 L236.5 433.5 L237.5 435.5 L238.5 435.5 L239.5 435.5 L240.5 435.5 L241.5 433.5 L242.5 431.5 L242.5 430.5 L241.5 428.5 L240.5 426.5 L239.5 426.5 L238.5 426.5 M246.5 428.5 L246.5 427.5 L248.5 426.5 L248.5 435.5 M253.5 431.5 L261.5 431.5 M265.5 428.5 L265.5 428.5 L265.5 427.5 L266.5 426.5 L267.5 426.5 L269.5 426.5 L269.5 426.5 L270.5 427.5 L270.5 428.5 L270.5 429.5 L270.5 429.5 L269.5 431.5 L265.5 435.5 L271.5 435.5 M274.5 428.5 L274.5 428.5 L274.5 427.5 L275.5 426.5 L276.5 426.5 L277.5 426.5 L278.5 426.5 L279.5 427.5 L279.5 428.5 L279.5 429.5 L279.5 429.5 L278.5 431.5 L273.5 435.5 L280.5 435.5 M284.5 426.5 L284.5 435.5 M281.5 426.5 L288.5 426.5 M292.5 426.5 L291.5 426.5 L290.5 428.5 L289.5 430.5 L289.5 431.5 L290.5 433.5 L291.5 435.5 L292.5 435.5 L293.5 435.5 L294.5 435.5 L295.5 433.5 L296.5 431.5 L296.5 430.5 L295.5 428.5 L294.5 426.5 L293.5 426.5 L292.5 426.5 M301.5 426.5 L299.5 426.5 L299.5 428.5 L298.5 430.5 L298.5 431.5 L299.5 433.5 L299.5 435.5 L301.5 435.5 L302.5 435.5 L303.5 435.5 L304.5 433.5 L304.5 431.5 L304.5 430.5 L304.5 428.5 L303.5 426.5 L302.5 426.5 L301.5 426.5 M307.5 429.5 L307.5 429.5 L307.5 430.5 L308.5 429.5 L307.5 429.5 M307.5 434.5 L307.5 435.5 L307.5 435.5 L308.5 435.5 L307.5 434.5 M311.5 426.5 L316.5 426.5 L314.5 429.5 L315.5 429.5 L316.5 430.5 L316.5 430.5 L317.5 432.5 L317.5 432.5 L316.5 434.5 L315.5 435.5 L314.5 435.5 L313.5 435.5 L311.5 435.5 L311.5 434.5 L311.5 433.5 M326.5 426.5 L321.5 435.5 M319.5 426.5 L326.5 426.5 M329.5 429.5 L328.5 429.5 L329.5 430.5 L329.5 429.5 L329.5 429.5 M329.5 434.5 L328.5 435.5 L329.5 435.5 L329.5 435.5 L329.5 434.5 M333.5 426.5 L338.5 426.5 L335.5 429.5 L336.5 429.5 L337.5 430.5 L338.5 430.5 L338.5 432.5 L338.5 432.5 L338.5 434.5 L337.5 435.5 L335.5 435.5 L334.5 435.5 L333.5 435.5 L332.5 434.5 L332.5 433.5 M341.5 428.5 L341.5 428.5 L342.5 427.5 L342.5 426.5 L343.5 426.5 L345.5 426.5 L346.5 426.5 L346.5 427.5 L346.5 428.5 L346.5 429.5 L346.5 429.5 L345.5 431.5 L341.5 435.5 L347.5 435.5 M357.5 426.5 L357.5 432.5 L357.5 434.5 L358.5 435.5 L360.5 435.5 L361.5 435.5 L362.5 435.5 L363.5 434.5 L363.5 432.5 L363.5 426.5 M369.5 426.5 L369.5 435.5 M365.5 426.5 L372.5 426.5 M380.5 428.5 L380.5 427.5 L379.5 426.5 L378.5 426.5 L376.5 426.5 L375.5 426.5 L374.5 427.5 L374.5 428.5 L373.5 429.5 L373.5 432.5 L374.5 433.5 L374.5 434.5 L375.5 435.5 L376.5 435.5 L378.5 435.5 L379.5 435.5 L380.5 434.5 L380.5 433.5" stroke="#000" stroke-width="1" fill="none" shape-rendering="crispEdges" stroke-linecap="square"/>
<path d="M92.5 255.5 L94.5 255.5 L95.5 256.5 L102.5 256.5 L103.5 255.5 L110 255.5 L112 259.5 L118.5 259.5 L120 255.5 L126.5 255.5 L127.5 256.5 L134.5 256.5 L135.5 255.5 L140.5 255.5 L141.5 256.5 L148.5 256.5 L149.5 255.5 L152.5 255.5 L153.5 256.5 L160.5 256.5 L161.5 255.5 L165.5 255.5 L166.5 258 L172.5 258 L173.5 256.5 L183.5 256.5 L184.5 255.5 L187.5 255.5 L188.5 256.5 L207.5 256.5 L212.5 256.5 L213.5 255.5 L218.5 255.5 L219.5 254.5 L221.5 253.5 L224.5 253.5 L226.5 254.5 L228.5 255.5 L233.5 255.5 L234.5 254.5 L237.5 254.5 L238.5 255.5 L243.5 255.5 L244.5 254.5 L246.5 253.5 L247.5 252.5 L249.5 251 L251.5 249.5 L252.5 248 L255.5 247 L258.2 243 L259.3 241.9 L261.9 241.1 L265.1 238.2 L267.2 238.2 L269.3 236.1 L270.9 235.1 L271.4 231.4 L272.5 228.7 L274.1 226.6 L275.1 223.5 L275.7 220.3 L276.2 215 L277.2 211.9 L278.3 208.2 L279.3 205 L280.8 201.6 L282.1 199 L283.8 198.2 L285.1 193.9 L285.9 190.4 L286.8 187 L288.1 184 L289 180.1 L290.2 177.5 L292 172.8 L292.4 171.5 L294.5 170.7 L296.3 168.1 L298 167.7 L300.1 165.9 L302.3 169.4 L304.4 172.4 L306.1 173.2 L307 175.4 L309.5 175.4 L311.3 175.8 L313.9 178 L315.2 181 L316.4 184.4 L318.6 186.6 L320.3 188.7 L322 191.7 L323.7 193 L325 195.6 L326.3 199 L326.8 203.1 L329.1 206 L332.6 209 L334.4 210.7 L336.1 213.6 L338.5 217.2 L341.4 219.5 L345.5 220.7 L346.7 223 L349 227.7 L351.9 230.6 L354.9 233 L356 236.5 L358.4 240 L360.1 244.7 L364.2 245.9 L365.5 246.9 L368.2 248.9 L369.4 251.6 L372.1 254.7 L374.1 252 L375.7 249.3 L377.2 250 L380 250.4 L381.9 253.2 L383.9 255.5 L385.4 254 L387.4 255.5 L389.7 252.8 L391.7 249.3 L393.2 250.4 L396 250.4 L397.5 253.6 L399.1 254.3 L401 257.1 L402.2 256.5 L413.5 256.5 L418.5 256.5 L419.5 255.5 L433.8 255.5 L436.2 258 L438.5 261.1 L439.5 262.5 L442.5 262.5 L444.4 261.1 L445.9 258.4 L447.1 255.7 L450.2 255.5 L451.8 254.5 L458 254.5 L459.2 256.5 L463.5 256.5 L464.5 258 L467.5 258 L468.5 256.5 L469.5 256.5 L470.5 259.5 L473.5 259.5 L474.5 258 L477.5 258 L478.5 255.5 L480.5 254.5 L486 254.5 L487.5 256.5 L495.5 256.5 L496.5 255.5 L497.5 255.5 L498.5 256.5 L502.5 256.5 L503.5 258 M92.5 256.5L94.5 256.5 M94.5 256.5L95.5 257.5 M95.5 257.5L102.5 257.5 M102.5 257.5L103.5 256.5 M103.5 256.5L110 256.5 M111 255.5L113 259.5 M112 260.5L118.5 260.5 M119.5 259.5L121 255.5 M120 256.5L126.5 256.5 M126.5 256.5L127.5 257.5 M127.5 257.5L134.5 257.5 M134.5 257.5L135.5 256.5 M135.5 256.5L140.5 256.5 M140.5 256.5L141.5 257.5 M141.5 257.5L148.5 257.5 M148.5 257.5L149.5 256.5 M149.5 256.5L152.5 256.5 M152.5 256.5L153.5 257.5 M153.5 257.5L160.5 257.5 M160.5 257.5L161.5 256.5 M161.5 256.5L165.5 256.5 M166.5 255.5L167.5 258 M166.5 259L172.5 259 M173.5 258L174.5 256.5 M173.5 257.5L183.5 257.5 M183.5 257.5L184.5 256.5 M184.5 256.5L187.5 256.5 M187.5 256.5L188.5 257.5 M188.5 257.5L207.5 257.5 M207.5 257.5L212.5 257.5 M212.5 257.5L213.5 256.5 M213.5 256.5L218.5 256.5 M218.5 256.5L219.5 255.5 M219.5 255.5L221.5 254.5 M221.5 254.5L224.5 254.5 M224.5 254.5L226.5 255.5 M226.5 255.5L228.5 256.5 M228.5 256.5L233.5 256.5 M233.5 256.5L234.5 255.5 M234.5 255.5L237.5 255.5 M237.5 255.5L238.5 256.5 M238.5 256.5L243.5 256.5 M243.5 256.5L244.5 255.5 M244.5 255.5L246.5 254.5 M246.5 254.5L247.5 253.5 M247.5 253.5L249.5 252 M249.5 252L251.5 250.5 M252.5 249.5L253.5 248 M252.5 249L255.5 248 M256.5 247L259.2 243 M258.2 244L259.3 242.9 M259.3 242.9L261.9 242.1 M261.9 242.1L265.1 239.2 M265.1 239.2L267.2 239.2 M267.2 239.2L269.3 237.1 M269.3 237.1L270.9 236.1 M271.9 235.1L272.4 231.4 M272.4 231.4L273.5 228.7 M273.5 228.7L275.1 226.6 M275.1 226.6L276.1 223.5 M276.1 223.5L276.7 220.3 M276.7 220.3L277.2 215 M277.2 215L278.2 211.9 M278.2 211.9L279.3 208.2 M279.3 208.2L280.3 205 M280.3 205L281.8 201.6 M281.8 201.6L283.1 199 M282.1 200L283.8 199.2 M284.8 198.2L286.1 193.9 M286.1 193.9L286.9 190.4 M286.9 190.4L287.8 187 M287.8 187L289.1 184 M289.1 184L290 180.1 M290 180.1L291.2 177.5 M291.2 177.5L293 172.8 M293 172.8L293.4 171.5 M292.4 172.5L294.5 171.7 M295.5 170.7L297.3 168.1 M296.3 169.1L298 168.7 M298 168.7L300.1 166.9 M301.1 165.9L303.3 169.4 M303.3 169.4L305.4 172.4 M304.4 173.4L306.1 174.2 M307.1 173.2L308 175.4 M307 176.4L309.5 176.4 M309.5 176.4L311.3 176.8 M311.3 176.8L313.9 179 M314.9 178L316.2 181 M316.2 181L317.4 184.4 M316.4 185.4L318.6 187.6 M319.6 186.6L321.3 188.7 M321.3 188.7L323 191.7 M322 192.7L323.7 194 M324.7 193L326 195.6 M326 195.6L327.3 199 M327.3 199L327.8 203.1 M327.8 203.1L330.1 206 M329.1 207L332.6 210 M332.6 210L334.4 211.7 M335.4 210.7L337.1 213.6 M337.1 213.6L339.5 217.2 M338.5 218.2L341.4 220.5 M341.4 220.5L345.5 221.7 M346.5 220.7L347.7 223 M347.7 223L350 227.7 M350 227.7L352.9 230.6 M351.9 231.6L354.9 234 M355.9 233L357 236.5 M357 236.5L359.4 240 M359.4 240L361.1 244.7 M360.1 245.7L364.2 246.9 M364.2 246.9L365.5 247.9 M365.5 247.9L368.2 249.9 M369.2 248.9L370.4 251.6 M370.4 251.6L373.1 254.7 M373.1 254.7L375.1 252 M375.1 252L376.7 249.3 M375.7 250.3L377.2 251 M377.2 251L380 251.4 M381 250.4L382.9 253.2 M382.9 253.2L384.9 255.5 M383.9 256.5L385.4 255 M385.4 255L387.4 256.5 M388.4 255.5L390.7 252.8 M390.7 252.8L392.7 249.3 M391.7 250.3L393.2 251.4 M393.2 251.4L396 251.4 M397 250.4L398.5 253.6 M397.5 254.6L399.1 255.3 M400.1 254.3L402 257.1 M401 258.1L402.2 257.5 M402.2 257.5L413.5 257.5 M413.5 257.5L418.5 257.5 M418.5 257.5L419.5 256.5 M419.5 256.5L433.8 256.5 M434.8 255.5L437.2 258 M437.2 258L439.5 261.1 M439.5 261.1L440.5 262.5 M439.5 263.5L442.5 263.5 M442.5 263.5L444.4 262.1 M445.4 261.1L446.9 258.4 M446.9 258.4L448.1 255.7 M447.1 256.7L450.2 256.5 M450.2 256.5L451.8 255.5 M451.8 255.5L458 255.5 M459 254.5L460.2 256.5 M459.2 257.5L463.5 257.5 M464.5 256.5L465.5 258 M464.5 259L467.5 259 M468.5 258L469.5 256.5 M468.5 257.5L469.5 257.5 M470.5 256.5L471.5 259.5 M470.5 260.5L473.5 260.5 M474.5 259.5L475.5 258 M474.5 259L477.5 259 M478.5 258L479.5 255.5 M478.5 256.5L480.5 255.5 M480.5 255.5L486 255.5 M487 254.5L488.5 256.5 M487.5 257.5L495.5 257.5 M495.5 257.5L496.5 256.5 M496.5 256.5L497.5 256.5 M497.5 256.5L498.5 257.5 M498.5 257.5L502.5 257.5 M503.5 256.5L504.5 258 M167.5 257.5L173.5 257.5 M195.5 257.5L195.5 259.5 M212.5 257.5L212.5 259.5 M310.5 173.5L310.5 176.5 M335.5 209.5L335.5 211.5 M401.5 257.5L401.5 259.5" stroke="#00f" stroke-width="1" fill="none" shape-rendering="crispEdges" stroke-linecap="square"/>
</svg>
</body></html>
